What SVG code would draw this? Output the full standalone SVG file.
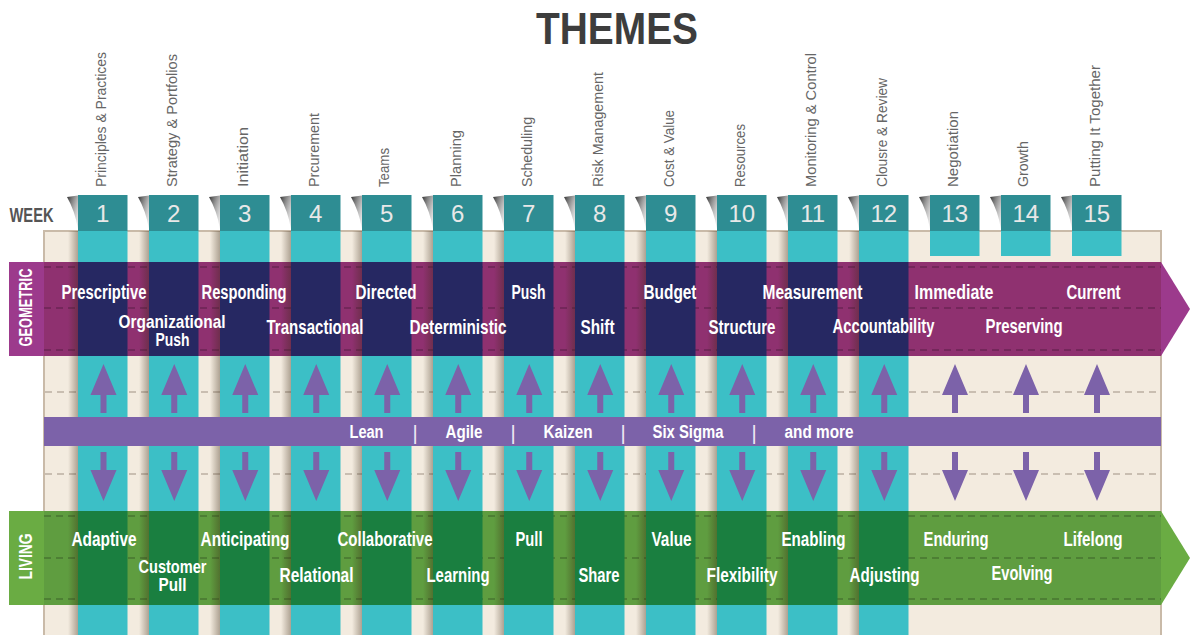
<svg xmlns="http://www.w3.org/2000/svg" width="1190" height="635" viewBox="0 0 1190 635">
<defs>
<style>
.title{font-family:"Liberation Sans",Arial,sans-serif;font-weight:bold;font-size:44px;fill:#3d3d3d}
.week{font-family:"Liberation Sans",Arial,sans-serif;font-weight:bold;font-size:21px;fill:#555}
.theme{font-family:"Liberation Sans",Arial,sans-serif;font-size:15.5px;fill:#666}
.num{font-family:"Liberation Sans",Arial,sans-serif;font-size:24px;fill:#e8e8e8;text-anchor:middle}
.lbl{font-family:"Liberation Sans",Arial,sans-serif;font-weight:bold;font-size:20px;fill:#fff}
.lbl2{font-family:"Liberation Sans",Arial,sans-serif;font-weight:bold;font-size:19px;fill:#fff}
.side{font-family:"Liberation Sans",Arial,sans-serif;font-weight:bold;font-size:19px;fill:#fff;text-anchor:middle}
.bar{font-family:"Liberation Sans",Arial,sans-serif;font-weight:bold;font-size:18px;fill:#fff}
.sep{font-family:"Liberation Sans",Arial,sans-serif;font-size:20px;fill:#f0eaf5;text-anchor:middle}
.tab{fill:#2e8d93}
.col{fill:#3cbfc6}
.navy{fill:#262862}
.dkgreen{fill:#1a7f40}
.dash-bg{stroke:#a09284;stroke-width:1.2;stroke-dasharray:7 5;fill:none}
.dash-band{stroke:#000;stroke-opacity:0.38;stroke-width:1.2;stroke-dasharray:7 5;fill:none}
.arrow{fill:#7c62a9}
</style>
<linearGradient id="colShadow" x1="0" y1="0" x2="1" y2="0">
<stop offset="0" stop-color="#3c2a14" stop-opacity="0"/>
<stop offset="1" stop-color="#3c2a14" stop-opacity="0.38"/>
</linearGradient>
<linearGradient id="tabShadow" x1="0" y1="0" x2="1" y2="1">
<stop offset="0" stop-color="#2f2f2f"/>
<stop offset="1" stop-color="#cfcfcf" stop-opacity="0.3"/>
</linearGradient>
<path id="tabsh" d="M-11,197 L0,195.5 L0,229 Q-3,211 -11,197 Z" fill="url(#tabShadow)"/>
<rect id="csh" x="-10" y="231" width="10" height="404" fill="url(#colShadow)"/>
<path id="up" d="M0,364 L13,395 L3,395 L3,413 L-3,413 L-3,395 L-13,395 Z"/>
<path id="down" d="M-3,452 L3,452 L3,470 L13,470 L0,501 L-13,470 L-3,470 Z"/>
</defs>

<rect width="1190" height="635" fill="#ffffff"/>

<g id="title"><text class="title" x="617" y="44" text-anchor="middle" textLength="162" lengthAdjust="spacingAndGlyphs">THEMES</text></g>
<g id="week-label"><text class="week" x="9.5" y="221.5" textLength="44" lengthAdjust="spacingAndGlyphs">WEEK</text></g>

<g id="panel">
<rect x="44" y="231" width="1117" height="410" fill="#f3ebdf" stroke="#c9baa8" stroke-width="2"/>
<line class="dash-bg" x1="45" y1="392" x2="1160" y2="392"/>
<line class="dash-bg" x1="45" y1="474" x2="1160" y2="474"/>
</g>

<g id="columns">
<rect class="col" x="78" y="231" width="49.5" height="404"/>
<rect class="col" x="149" y="231" width="49.5" height="404"/>
<rect class="col" x="220" y="231" width="49.5" height="404"/>
<rect class="col" x="291" y="231" width="49.5" height="404"/>
<rect class="col" x="362" y="231" width="49.5" height="404"/>
<rect class="col" x="433" y="231" width="49.5" height="404"/>
<rect class="col" x="504" y="231" width="49.5" height="404"/>
<rect class="col" x="575" y="231" width="49.5" height="404"/>
<rect class="col" x="646" y="231" width="49.5" height="404"/>
<rect class="col" x="717" y="231" width="49.5" height="404"/>
<rect class="col" x="788" y="231" width="49.5" height="404"/>
<rect class="col" x="859" y="231" width="49.5" height="404"/>
<rect class="col" x="930" y="231" width="49.5" height="25"/>
<rect class="col" x="1001" y="231" width="49.5" height="25"/>
<rect class="col" x="1072" y="231" width="49.5" height="25"/>
</g>

<g id="geometric-band">
<rect x="9" y="262" width="35" height="94" fill="#9c3a8c"/>
<rect x="44" y="262" width="1117" height="94" fill="#8f3170"/>
<polygon points="1161,262 1190,309 1161,356" fill="#9c3a8c"/>
<line class="dash-band" x1="44" y1="267" x2="1161" y2="267"/>
<line class="dash-band" x1="44" y1="308" x2="1161" y2="308"/>
<line class="dash-band" x1="44" y1="350" x2="1161" y2="350"/>
<rect class="navy" x="78" y="262" width="49.5" height="94"/>
<rect class="navy" x="149" y="262" width="49.5" height="94"/>
<rect class="navy" x="220" y="262" width="49.5" height="94"/>
<rect class="navy" x="291" y="262" width="49.5" height="94"/>
<rect class="navy" x="362" y="262" width="49.5" height="94"/>
<rect class="navy" x="433" y="262" width="49.5" height="94"/>
<rect class="navy" x="504" y="262" width="49.5" height="94"/>
<rect class="navy" x="575" y="262" width="49.5" height="94"/>
<rect class="navy" x="646" y="262" width="49.5" height="94"/>
<rect class="navy" x="717" y="262" width="49.5" height="94"/>
<rect class="navy" x="788" y="262" width="49.5" height="94"/>
<rect class="navy" x="859" y="262" width="49.5" height="94"/>
<text class="side" transform="translate(32,307.5) rotate(-90)" textLength="78" lengthAdjust="spacingAndGlyphs">GEOMETRIC</text>
</g>

<g id="living-band">
<rect x="9" y="511" width="35" height="94" fill="#6aac43"/>
<rect x="44" y="511" width="1117" height="94" fill="#5f9d40"/>
<polygon points="1161,511 1190,558 1161,605" fill="#6aac43"/>
<line class="dash-band" x1="44" y1="516" x2="1161" y2="516"/>
<line class="dash-band" x1="44" y1="558" x2="1161" y2="558"/>
<line class="dash-band" x1="44" y1="599" x2="1161" y2="599"/>
<rect class="dkgreen" x="78" y="511" width="49.5" height="94"/>
<rect class="dkgreen" x="149" y="511" width="49.5" height="94"/>
<rect class="dkgreen" x="220" y="511" width="49.5" height="94"/>
<rect class="dkgreen" x="291" y="511" width="49.5" height="94"/>
<rect class="dkgreen" x="362" y="511" width="49.5" height="94"/>
<rect class="dkgreen" x="433" y="511" width="49.5" height="94"/>
<rect class="dkgreen" x="504" y="511" width="49.5" height="94"/>
<rect class="dkgreen" x="575" y="511" width="49.5" height="94"/>
<rect class="dkgreen" x="646" y="511" width="49.5" height="94"/>
<rect class="dkgreen" x="717" y="511" width="49.5" height="94"/>
<rect class="dkgreen" x="788" y="511" width="49.5" height="94"/>
<rect class="dkgreen" x="859" y="511" width="49.5" height="94"/>
<text class="side" transform="translate(32,556.5) rotate(-90)" textLength="46" lengthAdjust="spacingAndGlyphs">LIVING</text>
</g>

<g id="shadows">
<use href="#csh" x="78"/><use href="#csh" x="149"/><use href="#csh" x="220"/><use href="#csh" x="291"/>
<use href="#csh" x="362"/><use href="#csh" x="433"/><use href="#csh" x="504"/><use href="#csh" x="575"/>
<use href="#csh" x="646"/><use href="#csh" x="717"/><use href="#csh" x="788"/><use href="#csh" x="859"/>
</g>

<g id="week-1"><use href="#tabsh" x="78"/><rect class="tab" x="78" y="195" width="49.5" height="36"/><text class="num" x="102.75" y="221.5">1</text><text class="theme" transform="translate(106,187) rotate(-90)" textLength="135" lengthAdjust="spacingAndGlyphs">Principles &amp; Practices</text></g>
<g id="week-2"><use href="#tabsh" x="149"/><rect class="tab" x="149" y="195" width="49.5" height="36"/><text class="num" x="173.75" y="221.5">2</text><text class="theme" transform="translate(177,187) rotate(-90)" textLength="133" lengthAdjust="spacingAndGlyphs">Strategy &amp; Portfolios</text></g>
<g id="week-3"><use href="#tabsh" x="220"/><rect class="tab" x="220" y="195" width="49.5" height="36"/><text class="num" x="244.75" y="221.5">3</text><text class="theme" transform="translate(248,187) rotate(-90)" textLength="60" lengthAdjust="spacingAndGlyphs">Initiation</text></g>
<g id="week-4"><use href="#tabsh" x="291"/><rect class="tab" x="291" y="195" width="49.5" height="36"/><text class="num" x="315.75" y="221.5">4</text><text class="theme" transform="translate(319,187) rotate(-90)" textLength="74" lengthAdjust="spacingAndGlyphs">Prcurement</text></g>
<g id="week-5"><use href="#tabsh" x="362"/><rect class="tab" x="362" y="195" width="49.5" height="36"/><text class="num" x="386.75" y="221.5">5</text><text class="theme" transform="translate(389,187) rotate(-90)" textLength="39" lengthAdjust="spacingAndGlyphs">Teams</text></g>
<g id="week-6"><use href="#tabsh" x="433"/><rect class="tab" x="433" y="195" width="49.5" height="36"/><text class="num" x="457.75" y="221.5">6</text><text class="theme" transform="translate(461,187) rotate(-90)" textLength="57" lengthAdjust="spacingAndGlyphs">Planning</text></g>
<g id="week-7"><use href="#tabsh" x="504"/><rect class="tab" x="504" y="195" width="49.5" height="36"/><text class="num" x="528.75" y="221.5">7</text><text class="theme" transform="translate(532,187) rotate(-90)" textLength="70" lengthAdjust="spacingAndGlyphs">Scheduling</text></g>
<g id="week-8"><use href="#tabsh" x="575"/><rect class="tab" x="575" y="195" width="49.5" height="36"/><text class="num" x="599.75" y="221.5">8</text><text class="theme" transform="translate(603,187) rotate(-90)" textLength="115" lengthAdjust="spacingAndGlyphs">Risk Management</text></g>
<g id="week-9"><use href="#tabsh" x="646"/><rect class="tab" x="646" y="195" width="49.5" height="36"/><text class="num" x="670.75" y="221.5">9</text><text class="theme" transform="translate(674,187) rotate(-90)" textLength="77" lengthAdjust="spacingAndGlyphs">Cost &amp; Value</text></g>
<g id="week-10"><use href="#tabsh" x="717"/><rect class="tab" x="717" y="195" width="49.5" height="36"/><text class="num" x="741.75" y="221.5">10</text><text class="theme" transform="translate(745,187) rotate(-90)" textLength="63" lengthAdjust="spacingAndGlyphs">Resources</text></g>
<g id="week-11"><use href="#tabsh" x="788"/><rect class="tab" x="788" y="195" width="49.5" height="36"/><text class="num" x="812.75" y="221.5">11</text><text class="theme" transform="translate(816,187) rotate(-90)" textLength="134" lengthAdjust="spacingAndGlyphs">Monitoring &amp; Control</text></g>
<g id="week-12"><use href="#tabsh" x="859"/><rect class="tab" x="859" y="195" width="49.5" height="36"/><text class="num" x="883.75" y="221.5">12</text><text class="theme" transform="translate(887,187) rotate(-90)" textLength="109" lengthAdjust="spacingAndGlyphs">Clousre &amp; Review</text></g>
<g id="week-13"><use href="#tabsh" x="930"/><rect class="tab" x="930" y="195" width="49.5" height="36"/><text class="num" x="954.75" y="221.5">13</text><text class="theme" transform="translate(958,187) rotate(-90)" textLength="76" lengthAdjust="spacingAndGlyphs">Negotiation</text></g>
<g id="week-14"><use href="#tabsh" x="1001"/><rect class="tab" x="1001" y="195" width="49.5" height="36"/><text class="num" x="1025.75" y="221.5">14</text><text class="theme" transform="translate(1028,187) rotate(-90)" textLength="46" lengthAdjust="spacingAndGlyphs">Growth</text></g>
<g id="week-15"><use href="#tabsh" x="1072"/><rect class="tab" x="1072" y="195" width="49.5" height="36"/><text class="num" x="1096.75" y="221.5">15</text><text class="theme" transform="translate(1100,187) rotate(-90)" textLength="122" lengthAdjust="spacingAndGlyphs">Putting It Together</text></g>

<g id="methods-bar">
<rect x="44" y="417" width="1117" height="29" fill="#7c62a9"/>
<text class="bar" x="349.5" y="437.5" textLength="34" lengthAdjust="spacingAndGlyphs">Lean</text>
<text class="sep" x="415" y="440">|</text>
<text class="bar" x="445.5" y="437.5" textLength="37" lengthAdjust="spacingAndGlyphs">Agile</text>
<text class="sep" x="513" y="440">|</text>
<text class="bar" x="543.5" y="437.5" textLength="49" lengthAdjust="spacingAndGlyphs">Kaizen</text>
<text class="sep" x="623" y="440">|</text>
<text class="bar" x="652.5" y="437.5" textLength="71" lengthAdjust="spacingAndGlyphs">Six Sigma</text>
<text class="sep" x="754" y="440">|</text>
<text class="bar" x="784.5" y="437.5" textLength="69" lengthAdjust="spacingAndGlyphs">and more</text>
</g>

<g id="connectors" class="arrow">
<use href="#up" x="103.5"/><use href="#up" x="174.25"/><use href="#up" x="245.25"/><use href="#up" x="316.25"/><use href="#up" x="387.25"/>
<use href="#up" x="458.25"/><use href="#up" x="529.25"/><use href="#up" x="600.25"/><use href="#up" x="671.25"/><use href="#up" x="742.25"/>
<use href="#up" x="813.25"/><use href="#up" x="884.25"/><use href="#up" x="955"/><use href="#up" x="1026"/><use href="#up" x="1097"/>
<use href="#down" x="103.5"/><use href="#down" x="174.25"/><use href="#down" x="245.25"/><use href="#down" x="316.25"/><use href="#down" x="387.25"/>
<use href="#down" x="458.25"/><use href="#down" x="529.25"/><use href="#down" x="600.25"/><use href="#down" x="671.25"/><use href="#down" x="742.25"/>
<use href="#down" x="813.25"/><use href="#down" x="884.25"/><use href="#down" x="955"/><use href="#down" x="1026"/><use href="#down" x="1097"/>
</g>

<g id="geometric-labels">
<g id="g-prescriptive"><text class="lbl" x="61.5" y="299" textLength="85" lengthAdjust="spacingAndGlyphs">Prescriptive</text></g>
<g id="g-organizational-push"><text class="lbl2"><tspan x="118.5" y="327.5" textLength="107" lengthAdjust="spacingAndGlyphs">Organizational</tspan><tspan x="155.5" y="346" textLength="34" lengthAdjust="spacingAndGlyphs">Push</tspan></text></g>
<g id="g-responding"><text class="lbl" x="201.5" y="299" textLength="85" lengthAdjust="spacingAndGlyphs">Responding</text></g>
<g id="g-transactional"><text class="lbl" x="266.5" y="333.5" textLength="97" lengthAdjust="spacingAndGlyphs">Transactional</text></g>
<g id="g-directed"><text class="lbl" x="355.5" y="299" textLength="61" lengthAdjust="spacingAndGlyphs">Directed</text></g>
<g id="g-deterministic"><text class="lbl" x="409.5" y="333.5" textLength="97" lengthAdjust="spacingAndGlyphs">Deterministic</text></g>
<g id="g-push"><text class="lbl" x="511.5" y="299" textLength="34" lengthAdjust="spacingAndGlyphs">Push</text></g>
<g id="g-shift"><text class="lbl" x="580.5" y="333.5" textLength="34" lengthAdjust="spacingAndGlyphs">Shift</text></g>
<g id="g-budget"><text class="lbl" x="643.5" y="299" textLength="53" lengthAdjust="spacingAndGlyphs">Budget</text></g>
<g id="g-structure"><text class="lbl" x="708.5" y="333.5" textLength="67" lengthAdjust="spacingAndGlyphs">Structure</text></g>
<g id="g-measurement"><text class="lbl" x="762.5" y="299" textLength="100" lengthAdjust="spacingAndGlyphs">Measurement</text></g>
<g id="g-accountability"><text class="lbl" x="832.5" y="333" textLength="102" lengthAdjust="spacingAndGlyphs">Accountability</text></g>
<g id="g-immediate"><text class="lbl" x="914.5" y="299" textLength="79" lengthAdjust="spacingAndGlyphs">Immediate</text></g>
<g id="g-preserving"><text class="lbl" x="985.5" y="332.5" textLength="77" lengthAdjust="spacingAndGlyphs">Preserving</text></g>
<g id="g-current"><text class="lbl" x="1066.5" y="299" textLength="54" lengthAdjust="spacingAndGlyphs">Current</text></g>
</g>

<g id="living-labels">
<g id="l-adaptive"><text class="lbl" x="71.5" y="546" textLength="65" lengthAdjust="spacingAndGlyphs">Adaptive</text></g>
<g id="l-customer-pull"><text class="lbl2"><tspan x="138.5" y="573" textLength="68" lengthAdjust="spacingAndGlyphs">Customer</tspan><tspan x="158.5" y="591" textLength="28" lengthAdjust="spacingAndGlyphs">Pull</tspan></text></g>
<g id="l-anticipating"><text class="lbl" x="200.5" y="546" textLength="89" lengthAdjust="spacingAndGlyphs">Anticipating</text></g>
<g id="l-relational"><text class="lbl" x="279.5" y="581.5" textLength="74" lengthAdjust="spacingAndGlyphs">Relational</text></g>
<g id="l-collaborative"><text class="lbl" x="337.5" y="546" textLength="95" lengthAdjust="spacingAndGlyphs">Collaborative</text></g>
<g id="l-learning"><text class="lbl" x="426.5" y="581.5" textLength="63" lengthAdjust="spacingAndGlyphs">Learning</text></g>
<g id="l-pull"><text class="lbl" x="515.5" y="546" textLength="27" lengthAdjust="spacingAndGlyphs">Pull</text></g>
<g id="l-share"><text class="lbl" x="578.5" y="581.5" textLength="41" lengthAdjust="spacingAndGlyphs">Share</text></g>
<g id="l-value"><text class="lbl" x="651.5" y="546" textLength="40" lengthAdjust="spacingAndGlyphs">Value</text></g>
<g id="l-flexibility"><text class="lbl" x="706.5" y="581.5" textLength="71" lengthAdjust="spacingAndGlyphs">Flexibility</text></g>
<g id="l-enabling"><text class="lbl" x="781.5" y="546" textLength="64" lengthAdjust="spacingAndGlyphs">Enabling</text></g>
<g id="l-adjusting"><text class="lbl" x="849.5" y="581.5" textLength="70" lengthAdjust="spacingAndGlyphs">Adjusting</text></g>
<g id="l-enduring"><text class="lbl" x="923.5" y="546" textLength="65" lengthAdjust="spacingAndGlyphs">Enduring</text></g>
<g id="l-evolving"><text class="lbl" x="991.5" y="579.5" textLength="61" lengthAdjust="spacingAndGlyphs">Evolving</text></g>
<g id="l-lifelong"><text class="lbl" x="1063.5" y="546" textLength="59" lengthAdjust="spacingAndGlyphs">Lifelong</text></g>
</g>
</svg>
